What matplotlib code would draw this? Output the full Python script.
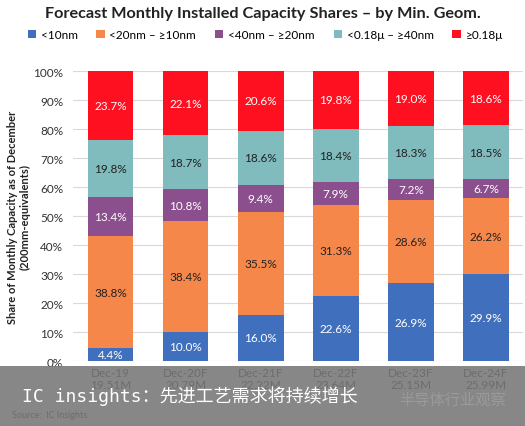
import matplotlib
matplotlib.use("Agg")
import matplotlib.pyplot as plt
from matplotlib.patches import Rectangle
import numpy as np

plt.rcParams['font.family'] = ['Lato', 'Noto Sans CJK SC', 'DejaVu Sans']

categories = ["Dec-19", "Dec-20F", "Dec-21F", "Dec-22F", "Dec-23F", "Dec-24F"]
capacity = ["19.51M", "20.79M", "22.22M", "23.64M", "25.15M", "25.99M"]
series_names = ["<10nm", "<20nm – ≥10nm", "<40nm – ≥20nm", "<0.18μ – ≥40nm", "≥0.18μ"]
lt10 = [4.4, 10.0, 16.0, 22.6, 26.9, 29.9]
lt20 = [38.8, 38.4, 35.5, 31.3, 28.6, 26.2]
lt40 = [13.4, 10.8, 9.4, 7.9, 7.2, 6.7]
lt018 = [19.8, 18.7, 18.6, 18.4, 18.3, 18.5]
ge018 = [23.7, 22.1, 20.6, 19.8, 19.0, 18.6]
series = [lt10, lt20, lt40, lt018, ge018]
colors = ["#4070BD", "#F5874B", "#8C4F8E", "#80BBBD", "#FE1020"]
label_colors = ["white", "#222222", "white", "#222222", "white"]

fig = plt.figure(figsize=(5.25, 4.27), dpi=100)
ax = fig.add_axes([0.139, 0.152, 0.858, 0.679])

x = np.arange(len(categories))
bottom = np.zeros(len(categories))
for name, vals, c, lc in zip(series_names, series, colors, label_colors):
    vals = np.array(vals)
    ax.bar(x, vals, bottom=bottom, width=0.61, color=c, label=name, zorder=2)
    for xi, b, v in zip(x, bottom, vals):
        ax.text(xi, b + v / 2, f"{v:.1f}%", ha="center", va="center",
                color=lc, fontsize=8.5, zorder=3)
    bottom += vals

ax.set_xlim(-0.5, len(categories) - 0.5)
ax.set_ylim(0, 100)
ax.set_yticks(np.arange(0, 101, 10))
ax.set_yticklabels([f"{v}%" for v in range(0, 101, 10)], fontsize=8.5, color="#333333")
ax.set_xticks(x)
ax.set_xticklabels([f"{c}\n{m}" for c, m in zip(categories, capacity)], fontsize=8.5,
                   color="#222222", linespacing=1.1)
ax.tick_params(axis="both", length=0, pad=4)
ax.tick_params(axis="y", pad=7)
ax.grid(axis="y", color="#D9D9D9", linewidth=0.8, zorder=0)
for s in ax.spines.values():
    s.set_visible(False)
ax.set_ylabel("Share of Monthly Capacity as of December\n(200mm-equivalents)",
              fontsize=8, fontweight="bold", color="#222222", labelpad=2, linespacing=1.2)

fig.text(0.5, 0.968, "Forecast Monthly Installed Capacity Shares – by Min. Geom.",
         ha="center", va="center", fontsize=11.7, fontweight="bold", color="#222222")
fig.legend(loc="center", bbox_to_anchor=(0.505, 0.917), ncol=5, frameon=False,
           fontsize=8.5, handlelength=0.7, handleheight=0.7, handletextpad=0.4,
           columnspacing=1.6)

fig.text(0.023, 0.016, "Source:  IC Insights", fontsize=6.5, color="#222222", va="bottom")

# overlay banner
fig.patches.append(Rectangle((0, 0), 1, 60 / 427, transform=fig.transFigure,
                             facecolor="#777777", alpha=0.88, edgecolor="none", zorder=10))
fig.text(0.042, 0.073, "IC insights：先进工艺需求将持续增长", fontsize=13,
         color="white", va="center", ha="left", zorder=11,
         family=['DejaVu Sans Mono', 'Noto Sans CJK SC'])
fig.text(0.76, 0.063, "半导体行业观察", fontsize=11, color="#9a9a9a", va="center",
         ha="left", zorder=11, family=['Noto Sans CJK SC', 'DejaVu Sans'])

fig.savefig("out.png", dpi=100)
